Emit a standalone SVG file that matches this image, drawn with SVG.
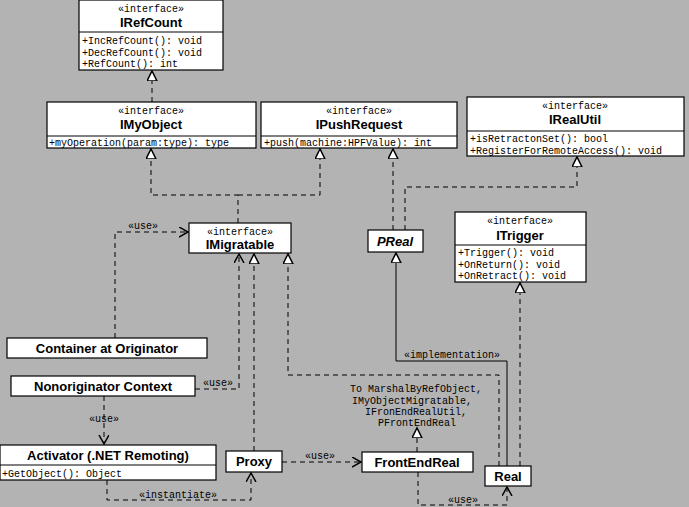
<svg xmlns="http://www.w3.org/2000/svg" width="689" height="507" viewBox="0 0 689 507">
<style>
.b{fill:#fff;stroke:#000;stroke-width:1.2}
.st{font-family:"Liberation Mono",monospace;font-size:10px;text-anchor:middle}
.n{font-family:"Liberation Sans",sans-serif;font-weight:bold;font-size:13px;text-anchor:middle}
.m{font-family:"Liberation Mono",monospace;font-size:10px}
.l{font-family:"Liberation Mono",monospace;font-size:10px;text-anchor:middle}
.d{fill:none;stroke:#000;stroke-dasharray:5,4}
.s{fill:none;stroke:#000}
</style>
<defs>
<marker id="tri" markerWidth="12" markerHeight="12" refX="10" refY="5" orient="auto" markerUnits="userSpaceOnUse"><path d="M0,0 L10,5 L0,10 Z" fill="#fff" stroke="#000" stroke-width="1.5"/></marker>
<marker id="op" markerWidth="12" markerHeight="12" refX="9" refY="5" orient="auto" markerUnits="userSpaceOnUse"><path d="M0,0 L9,5 L0,10" fill="none" stroke="#000" stroke-width="1.5"/></marker>
</defs>
<rect width="689" height="507" fill="#b3b3b3"/>
<g id="connectors">
<path class="d" d="M152,102 V71" marker-end="url(#tri)"/>
<path class="d" d="M238,223 V195 H151 V149" marker-end="url(#tri)"/>
<path class="d" d="M238,195 H320 V149" marker-end="url(#tri)"/>
<path class="d" d="M393,230 V149" marker-end="url(#tri)"/>
<path class="d" d="M405,230 V187 H577 V157" marker-end="url(#tri)"/>
<path class="d" d="M115,338 V232 H188" marker-end="url(#op)"/>
<text class="l" x="143" y="229">«use»</text>
<path class="d" d="M195,389 H239 V254" marker-end="url(#op)"/>
<text class="l" x="218" y="386">«use»</text>
<path class="d" d="M254,451 V254" marker-end="url(#tri)"/>
<path class="d" d="M499,466 V375 H288 V254" marker-end="url(#tri)"/>
<path class="d" d="M520,466 V283" marker-end="url(#tri)"/>
<path class="s" d="M507,466 V361 H396 V253" marker-end="url(#tri)"/>
<text class="l" x="452" y="358">«implementation»</text>
<path class="d" d="M417,452 V428" marker-end="url(#tri)"/>
<text class="l" x="416" y="392">To MarshalByRefObject,</text>
<text class="l" x="412" y="404">IMyObjectMigratable,</text>
<text class="l" x="416" y="415">IFronEndRealUtil,</text>
<text class="l" x="417" y="426">PFrontEndReal</text>
<path class="d" d="M282,462 H361" marker-end="url(#op)"/>
<text class="l" x="320" y="459">«use»</text>
<path class="d" d="M418,472 V505 H507 V487" marker-end="url(#op)"/>
<text class="l" x="463" y="503">«use»</text>
<path class="d" d="M104,396 V444" marker-end="url(#op)"/>
<text class="l" x="104" y="422">«use»</text>
<path class="d" d="M107,480 V500 H251 V473" marker-end="url(#op)"/>
<text class="l" x="178" y="498">«instantiate»</text>
</g>
<g id="IRefCount"><rect class="b" x="79" y="0" width="144" height="70"/><line x1="79" y1="32" x2="223" y2="32" stroke="#000"/>
<text class="st" x="151" y="12">«interface»</text><text class="n" x="151" y="27">IRefCount</text>
<text class="m" x="82" y="44">+IncRefCount(): void</text><text class="m" x="82" y="56">+DecRefCount(): void</text><text class="m" x="82" y="67">+RefCount(): int</text></g>
<g id="IMyObject"><rect class="b" x="47" y="102" width="209" height="46"/><line x1="47" y1="136" x2="256" y2="136" stroke="#000"/>
<text class="st" x="151" y="114">«interface»</text><text class="n" x="151" y="129">IMyObject</text>
<text class="m" x="49" y="146">+myOperation(param:type): type</text></g>
<g id="IPushRequest"><rect class="b" x="261" y="102" width="196" height="46"/><line x1="261" y1="136" x2="457" y2="136" stroke="#000"/>
<text class="st" x="359" y="114">«interface»</text><text class="n" x="359" y="129">IPushRequest</text>
<text class="m" x="264" y="146">+push(machine:HPFValue): int</text></g>
<g id="IRealUtil"><rect class="b" x="467" y="97" width="217" height="59"/><line x1="467" y1="131" x2="684" y2="131" stroke="#000"/>
<text class="st" x="575" y="109">«interface»</text><text class="n" x="575" y="124">IRealUtil</text>
<text class="m" x="470" y="142">+isRetractonSet(): bool</text><text class="m" x="470" y="154">+RegisterForRemoteAccess(): void</text></g>
<g id="ITrigger"><rect class="b" x="455" y="212" width="131" height="70"/><line x1="455" y1="245" x2="586" y2="245" stroke="#000"/>
<text class="st" x="520" y="224">«interface»</text><text class="n" x="520" y="240">ITrigger</text>
<text class="m" x="458" y="256">+Trigger(): void</text><text class="m" x="458" y="268">+OnReturn(): void</text><text class="m" x="458" y="279">+OnRetract(): void</text></g>
<g id="PReal"><rect class="b" x="368" y="230" width="55" height="22"/><text class="n" x="395" y="246" font-style="italic">PReal</text></g>
<g id="IMigratable"><rect class="b" x="189" y="223" width="102" height="30"/><text class="st" x="240" y="235">«interface»</text><text class="n" x="240" y="249">IMigratable</text></g>
<g id="Container"><rect class="b" x="7" y="338" width="200" height="20"/><text class="n" x="107" y="353">Container at Originator</text></g>
<g id="Nonoriginator"><rect class="b" x="11" y="376" width="184" height="20"/><text class="n" x="103" y="391">Nonoriginator Context</text></g>
<g id="Activator"><rect class="b" x="0" y="445" width="216" height="35"/><line x1="0" y1="465" x2="216" y2="465" stroke="#000"/>
<text class="n" x="108" y="460">Activator (.NET Remoting)</text><text class="m" x="2" y="477">+GetObject(): Object</text></g>
<g id="Proxy"><rect class="b" x="226" y="451" width="56" height="21"/><text class="n" x="254" y="466">Proxy</text></g>
<g id="FrontEndReal"><rect class="b" x="362" y="452" width="111" height="20"/><text class="n" x="417" y="467">FrontEndReal</text></g>
<g id="Real"><rect class="b" x="485" y="466" width="46" height="20"/><text class="n" x="508" y="481">Real</text></g>
</svg>
